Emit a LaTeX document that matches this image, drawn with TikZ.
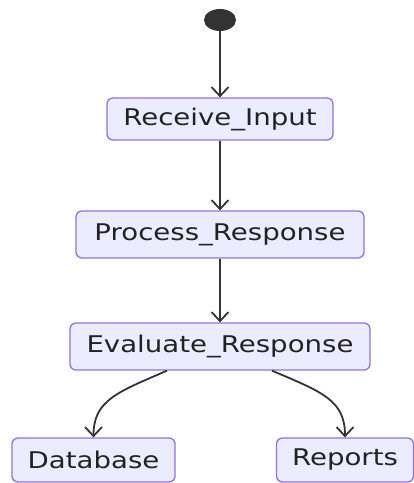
\documentclass[tikz,border=0pt]{standalone}
\usepackage{fontspec}
\newfontfamily\labelfont[FakeStretch=1.2]{DejaVu Sans}
\usetikzlibrary{arrows.meta,calc,shapes.geometric}
\definecolor{boxfill}{HTML}{ECECFF}
\definecolor{boxline}{HTML}{9370DB}
\definecolor{ink}{HTML}{333333}
\definecolor{txt}{HTML}{222222}
\tikzset{
  state/.style={draw=boxline, fill=boxfill, line width=1.3pt, rounded corners=6pt,
    inner sep=0pt, text=txt, font=\labelfont\fontsize{23}{26}\selectfont},
  flow/.style={draw=ink, line width=1.8pt, -{Straight Barb[length=9pt,width=17pt,line width=1.8pt]}},
}
\begin{document}
\begin{tikzpicture}[x=1pt,y=-1pt]
\useasboundingbox (0,0) rectangle (414,483);
\node[draw=none, fill=ink, ellipse, minimum width=32pt, minimum height=22pt, inner sep=0pt] (start) at (220,20) {};
\node[state, minimum width=226pt, minimum height=42pt] (recv) at (220,119) {Receive\_Input};
\node[state, minimum width=288pt, minimum height=47pt] (proc) at (220,234.5) {Process\_Response};
\node[state, minimum width=300pt, minimum height=47pt] (eval) at (220,346.5) {Evaluate\_Response};
\node[state, minimum width=163pt, minimum height=44pt] (db) at (93.5,460) {Database};
\node[state, minimum width=137pt, minimum height=44pt] (rep) at (345,460) {Reports};
\draw[flow] (start) -- (recv);
\draw[flow] (recv) -- (proc);
\draw[flow] (proc) -- (eval);
\draw[flow] ($(eval.south)+(-53,0)$) .. controls (118,392) and (93.5,400) .. (db.north);
\draw[flow] ($(eval.south)+(52,0)$) .. controls (322,392) and (345,400) .. (rep.north);
\end{tikzpicture}
\end{document}
